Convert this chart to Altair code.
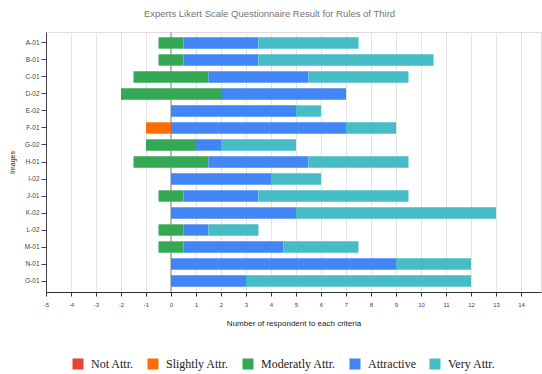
import altair as alt
import pandas as pd

images = ["A-01", "B-01", "C-01", "D-02", "E-02", "F-01", "G-02", "H-01",
          "I-02", "J-01", "K-02", "L-02", "M-01", "N-01", "O-01"]
not_attr = [0, 0, 0, 0, 0, 0, 0, 0, 0, 0, 0, 0, 0, 0, 0]
slightly = [0, 0, 0, 0, 0, 1, 0, 0, 0, 0, 0, 0, 0, 0, 0]
moderately = [1, 1, 3, 4, 0, 0, 2, 3, 0, 1, 0, 1, 1, 0, 0]
attractive = [3, 3, 4, 5, 5, 7, 1, 4, 4, 3, 5, 1, 4, 9, 3]
very = [4, 7, 4, 0, 1, 2, 3, 4, 2, 6, 8, 2, 3, 3, 9]
x_ticks = [-5, -4, -3, -2, -1, 0, 1, 2, 3, 4, 5, 6, 7, 8, 9, 10, 11, 12, 13, 14]

categories = ["Not Attr.", "Slightly Attr.", "Moderatly Attr.", "Attractive", "Very Attr."]
colors = ["#ea4335", "#ff6d01", "#34a853", "#4285f4", "#46bdc6"]

rows = []
for i, img in enumerate(images):
    vals = [not_attr[i], slightly[i], moderately[i], attractive[i], very[i]]
    start = -(not_attr[i] + slightly[i] + moderately[i] / 2)
    for cat, v in zip(categories, vals):
        if v > 0:
            rows.append({"image": img, "category": cat, "x": start, "x2": start + v})
        start += v
df = pd.DataFrame(rows)

xscale = alt.Scale(domain=[-5, 14.8], nice=False, zero=False)
yscale = alt.Scale(domain=images, paddingInner=0.33, paddingOuter=0.31)

xaxis = alt.Axis(values=x_ticks, title="Number of respondent to each criteria",
                 labelExpr="'' + datum.value", labelOverlap=False,
                 labelSeparation=0, labelBound=False, labelFlush=False,
                 grid=True, gridColor="#e4e4e4", domainColor="#333333",
                 tickColor="#333333", tickSize=4, labelFontSize=6,
                 labelColor="#444444", labelPadding=5, titleFontSize=8,
                 titleFontWeight="normal", titleColor="#222222", titlePadding=12,
                 labelFont="Liberation Sans", titleFont="Liberation Sans")

zero = alt.Chart(pd.DataFrame({"z": [0]})).mark_rule(color="#aaaaaa", strokeWidth=1.5).encode(
    x=alt.X("z:Q", scale=xscale, axis=xaxis)
)

bars = alt.Chart(df).mark_bar().encode(
    x=alt.X("x:Q", scale=xscale, axis=xaxis),
    x2="x2:Q",
    y=alt.Y("image:N", scale=yscale, sort=images,
            axis=alt.Axis(title="Images", domainColor="#444444", tickColor="#444444",
                          tickSize=5, labelFontSize=6.5, labelColor="#444444",
                          labelPadding=2, titleFontSize=7, titleFontWeight="normal",
                          titleColor="#222222", titlePadding=9,
                          labelFont="Liberation Sans", titleFont="Liberation Sans")),
    color=alt.Color("category:N", scale=alt.Scale(domain=categories, range=colors),
                    legend=alt.Legend(title=None, orient="none", direction="horizontal",
                                      legendX=26, legendY=326, symbolType="square",
                                      symbolSize=121, symbolStrokeWidth=0,
                                      labelFont="Liberation Serif", labelFontSize=12,
                                      labelColor="#222222", labelOffset=7,
                                      columnPadding=13)),
    order=alt.Order("x:Q"),
)

chart = alt.layer(zero, bars).properties(
    width=495, height=260,
    title=alt.TitleParams("Experts Likert Scale Questionnaire Result for Rules of Third",
                          font="Liberation Sans", fontSize=9.5, fontWeight="normal",
                          color="#757575", offset=13, dx=-24),
    autosize=alt.AutoSizeParams(type="none"),
    padding={"left": 46, "top": 32, "right": 1, "bottom": 82},
).configure_view(stroke=None).configure(background="white")

chart.save("out.html", embed_options={"renderer": "svg", "actions": False})
